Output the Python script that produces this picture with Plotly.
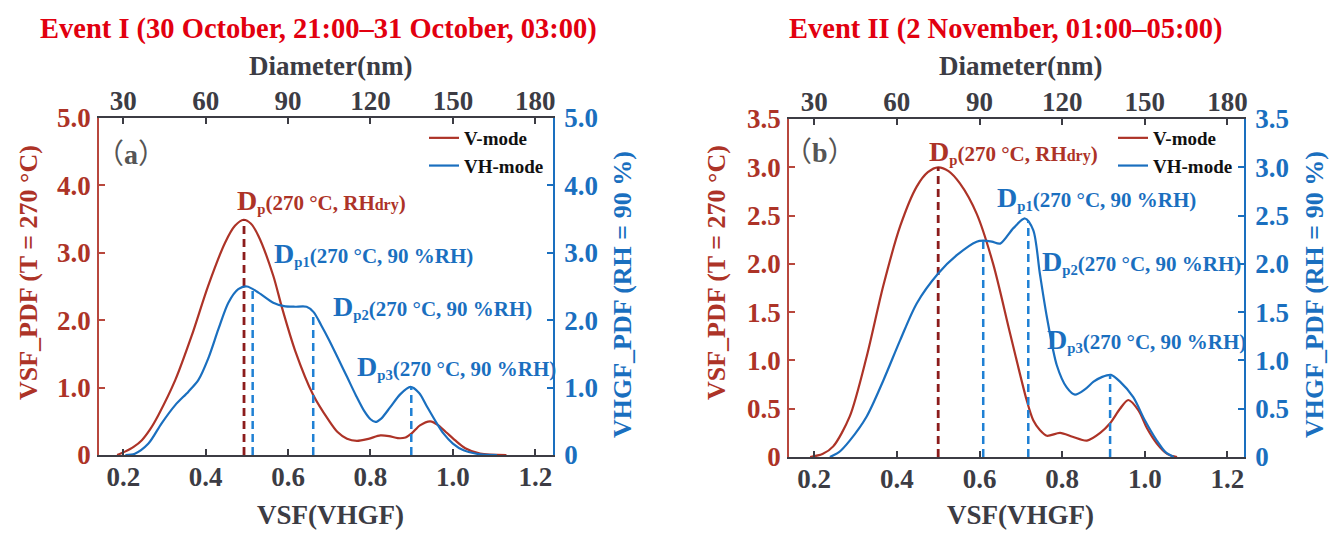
import plotly.graph_objects as go

# ---------------- data ----------------
# Panel (a): Event I
a_v_x = [0.185, 0.204, 0.225, 0.245, 0.265, 0.285, 0.326, 0.366, 0.406, 0.447, 0.471, 0.492, 0.51,
         0.528, 0.564, 0.585, 0.617, 0.661, 0.698, 0.72, 0.743, 0.767, 0.795, 0.824, 0.845, 0.866,
         0.885, 0.9, 0.92, 0.945, 0.965, 0.985, 1.005, 1.03, 1.066, 1.13]
a_v_y = [0.0, 0.05, 0.12, 0.22, 0.38, 0.59, 1.11, 1.77, 2.51, 3.15, 3.40, 3.49, 3.43,
         3.25, 2.66, 2.19, 1.55, 0.89, 0.52, 0.34, 0.24, 0.21, 0.24, 0.29, 0.28, 0.25,
         0.26, 0.32, 0.44, 0.5, 0.44, 0.33, 0.22, 0.1, 0.02, 0.0]
a_vh_x = [0.205, 0.228, 0.261, 0.293, 0.326, 0.358, 0.382, 0.406, 0.431, 0.455, 0.479, 0.50, 0.528,
          0.564, 0.59, 0.615, 0.645, 0.662, 0.68, 0.70, 0.72, 0.743, 0.765, 0.785, 0.8, 0.812,
          0.826, 0.848, 0.872, 0.897, 0.918, 0.937, 0.958, 0.977, 1.0, 1.026, 1.066, 1.107]
a_vh_y = [0.0, 0.02, 0.17, 0.47, 0.74, 0.94, 1.11, 1.43, 1.87, 2.26, 2.46, 2.50, 2.41,
          2.26, 2.21, 2.2, 2.2, 2.12, 1.93, 1.7, 1.45, 1.16, 0.88, 0.65, 0.53, 0.49,
          0.54, 0.71, 0.9, 1.01, 0.92, 0.72, 0.5, 0.32, 0.17, 0.07, 0.01, 0.0]
a_dp_v = [0.493, 3.49]                       # Dp (V-mode peak): x, height
a_dp_vh_x = [0.514, 0.661, 0.899]            # Dp1, Dp2, Dp3
a_dp_vh_y = [2.47, 2.1, 1.0]

# Panel (b): Event II
b_v_x = [0.19, 0.22, 0.246, 0.286, 0.327, 0.367, 0.408, 0.448, 0.475, 0.500, 0.525, 0.553, 0.593,
         0.633, 0.674, 0.714, 0.730, 0.746, 0.763, 0.795, 0.825, 0.86, 0.892, 0.916, 0.94, 0.96,
         0.985, 1.005, 1.029, 1.055, 1.078]
b_v_y = [0.0, 0.03, 0.11, 0.42, 1.04, 1.77, 2.39, 2.80, 2.95, 3.0, 2.96, 2.83, 2.52,
         2.00, 1.28, 0.59, 0.38, 0.28, 0.22, 0.25, 0.21, 0.17, 0.25, 0.35, 0.5, 0.59,
         0.48, 0.3, 0.14, 0.03, 0.0]
b_vh_x = [0.238, 0.26, 0.286, 0.327, 0.367, 0.408, 0.448, 0.500, 0.545, 0.593, 0.609, 0.630, 0.650,
          0.682, 0.710, 0.730, 0.746, 0.763, 0.787, 0.811, 0.831, 0.855, 0.876, 0.897, 0.918,
          0.94, 0.972, 1.0, 1.029, 1.05, 1.07]
b_vh_y = [0.0, 0.05, 0.17, 0.42, 0.79, 1.21, 1.59, 1.90, 2.09, 2.23, 2.24, 2.23, 2.21,
          2.37, 2.47, 2.35, 1.9, 1.45, 0.95, 0.72, 0.645, 0.7, 0.78, 0.83, 0.85,
          0.78, 0.62, 0.38, 0.17, 0.05, 0.0]
b_dp_v = [0.500, 3.0]
b_dp_vh_x = [0.609, 0.718, 0.916]
b_dp_vh_y = [2.24, 2.44, 0.85]

# tick labels
vsf_ticks = [0.2, 0.4, 0.6, 0.8, 1.0, 1.2]
vsf_labels = ["0.2", "0.4", "0.6", "0.8", "1.0", "1.2"]
diam_ticks = [30, 60, 90, 120, 150, 180]
a_y_ticks = [0, 1, 2, 3, 4, 5]
a_y_labels = ["0", "1.0", "2.0", "3.0", "4.0", "5.0"]
b_y_ticks = [0, 0.5, 1.0, 1.5, 2.0, 2.5, 3.0, 3.5]
b_y_labels = ["0", "0.5", "1.0", "1.5", "2.0", "2.5", "3.0", "3.5"]

titles = ["Event I (30 October, 21:00–31 October, 03:00)", "Event II (2 November, 01:00–05:00)"]
series_names = ["V-mode", "VH-mode"]

# ---------------- style ----------------
OFF = 8                      # the page places the figure 8 px from the window's top-left corner
W, H = 1343 - OFF, 539 - OFF
FONT = "Liberation Serif"
RED = "#ad3327"
RED_AX = "#b8473d"
RED_DASH = "#8c1c1c"
BLUE = "#1a6fbf"
BLUE_DASH = "#1f80d4"
GRAY = "#3c3c44"
TITLE_RED = "#e2000f"
TICK_SIZE = 27

def px(xp):
    return (xp - OFF) / W

def py(yp):
    return 1 - (yp - OFF) / H

panels = [
    dict(x0=99, x1=553, y0=118, y1=455, xr=[0.141, 1.243], yr=[0, 5], yt=a_y_ticks, yl=a_y_labels,
         vx=a_v_x, vy=a_v_y, hx=a_vh_x, hy=a_vh_y, dpv=a_dp_v, dpx=a_dp_vh_x, dpy=a_dp_vh_y,
         lab="（<b>a</b>）", lab_xy=(0.218, 4.46),
         ann=[(0.472, 3.77), (0.561, 2.98), (0.703, 2.19), (0.762, 1.31)],
         lt_x=28, rt_x=622, title_cx=318, leg_x=549),
    dict(x0=789, x1=1244, y0=119, y1=457, xr=[0.139, 1.240], yr=[0, 3.5], yt=b_y_ticks, yl=b_y_labels,
         vx=b_v_x, vy=b_v_y, hx=b_vh_x, hy=b_vh_y, dpv=b_dp_v, dpx=b_dp_vh_x, dpy=b_dp_vh_y,
         lab="（<b>b</b>）", lab_xy=(0.214, 3.15),
         ann=[(0.473, 3.16), (0.6375, 2.68), (0.7465, 2.02), (0.759, 1.21)],
         lt_x=716, rt_x=1314, title_cx=1006, leg_x=1238),
]

fig = go.Figure()
layout = dict(
    width=W, height=H, margin=dict(l=0, r=0, t=0, b=0, autoexpand=False),
    paper_bgcolor="white", plot_bgcolor="white",
    font=dict(family=FONT, size=20, color=GRAY, weight="bold"),
    annotations=[], showlegend=True,
)

D = "<span style='font-size:28px'>D</span>"
label_texts = [
    D + "<sub>p</sub>(270 °C, RH<span style='font-size:16px'>dry</span>)",
    D + "<sub>p1</sub>(270 °C, 90 %RH)",
    D + "<sub>p2</sub>(270 °C, 90 %RH)",
    D + "<sub>p3</sub>(270 °C, 90 %RH)",
]

for i, p in enumerate(panels):
    k = 2 * i
    xb = "x" if i == 0 else f"x{k+1}"          # bottom
    xt = f"x{k+2}"                              # top
    yl = "y" if i == 0 else f"y{k+1}"           # left
    yr = f"y{k+2}"                              # right
    xb_key = "xaxis" if i == 0 else f"xaxis{k+1}"
    xt_key = f"xaxis{k+2}"
    yl_key = "yaxis" if i == 0 else f"yaxis{k+1}"
    yr_key = f"yaxis{k+2}"
    leg = "legend" if i == 0 else "legend2"

    dom_x = [px(p["x0"]), px(p["x1"])]
    dom_y = [py(p["y1"]), py(p["y0"])]

    common = dict(showgrid=False, zeroline=False, automargin=False, ticklen=6, tickwidth=1.5,
                  showline=True, linewidth=1.5)
    layout[xb_key] = dict(domain=dom_x, anchor=yl, range=p["xr"], tickvals=vsf_ticks, ticktext=vsf_labels,
                          ticks="inside", tickcolor=GRAY, linecolor=GRAY,
                          tickfont=dict(size=TICK_SIZE, color=GRAY, family=FONT, weight="bold"),
                          ticklabelstandoff=-3, **common)
    layout[xt_key] = dict(overlaying=xb, anchor=yl, side="top", range=[p["xr"][0] * 150, p["xr"][1] * 150],
                          tickvals=diam_ticks, ticks="inside", tickcolor=GRAY, linecolor=GRAY,
                          tickfont=dict(size=TICK_SIZE, color=GRAY, family=FONT, weight="bold"),
                          ticklabelstandoff=-5, **common)
    layout[yl_key] = dict(domain=dom_y, anchor=xb, range=p["yr"], tickvals=p["yt"], ticktext=p["yl"],
                          ticks="inside", tickcolor=RED_AX, linecolor=RED_AX,
                          tickfont=dict(size=TICK_SIZE, color=RED, family=FONT, weight="bold"),
                          ticklabelstandoff=1, **common)
    layout[yr_key] = dict(overlaying=yl, anchor=xb, side="right", range=p["yr"], tickvals=p["yt"],
                          ticktext=p["yl"], ticks="inside", tickcolor=BLUE, linecolor=BLUE,
                          tickfont=dict(size=TICK_SIZE, color=BLUE, family=FONT, weight="bold"),
                          ticklabelstandoff=4, **common)

    # curves
    fig.add_trace(go.Scatter(x=p["vx"], y=p["vy"], xaxis=xb, yaxis=yl, mode="lines", name=series_names[0],
                             line=dict(color=RED, width=2.2, shape="spline", smoothing=0.8),
                             legend=leg, hoverinfo="skip"))
    fig.add_trace(go.Scatter(x=p["hx"], y=p["hy"], xaxis=xb, yaxis=yr, mode="lines", name=series_names[1],
                             line=dict(color=BLUE, width=2.2, shape="spline", smoothing=0.8),
                             legend=leg, hoverinfo="skip"))
    # dashed peak markers
    fig.add_trace(go.Scatter(x=[p["dpv"][0], p["dpv"][0]], y=[0, p["dpv"][1]], xaxis=xb, yaxis=yl,
                             mode="lines", line=dict(color=RED_DASH, width=2.8, dash="8px,5px"),
                             showlegend=False, hoverinfo="skip"))
    for xv, yv in zip(p["dpx"], p["dpy"]):
        fig.add_trace(go.Scatter(x=[xv, xv], y=[0, yv], xaxis=xb, yaxis=yr,
                                 mode="lines", line=dict(color=BLUE_DASH, width=2.5, dash="8px,5px"),
                                 showlegend=False, hoverinfo="skip"))
    # empty trace so that the top axis is drawn
    fig.add_trace(go.Scatter(x=[], y=[], xaxis=xt, yaxis=yl, showlegend=False, hoverinfo="skip"))

    layout[leg] = dict(x=px(p["leg_x"]), xanchor="right", y=py(119), yanchor="top",
                       bgcolor="rgba(0,0,0,0)", font=dict(family=FONT, size=19, color="#111111", weight="bold"),
                       tracegroupgap=0, itemwidth=30)

    anns = layout["annotations"]
    cx = (p["x0"] + p["x1"]) / 2
    anns.append(dict(xref="paper", yref="paper", x=px(p["title_cx"]), y=py(29), text=titles[i],
                     showarrow=False, xanchor="center", yanchor="middle",
                     font=dict(size=28.5, color=TITLE_RED, family=FONT, weight="bold")))
    anns.append(dict(xref="paper", yref="paper", x=px(cx + 4), y=py(66), text="Diameter(nm)",
                     showarrow=False, xanchor="center", yanchor="middle",
                     font=dict(size=27, color=GRAY, family=FONT, weight="bold")))
    anns.append(dict(xref="paper", yref="paper", x=px(cx + 4), y=py(515), text="VSF(VHGF)",
                     showarrow=False, xanchor="center", yanchor="middle",
                     font=dict(size=27, color=GRAY, family=FONT, weight="bold")))
    anns.append(dict(xref="paper", yref="paper", x=px(p["lt_x"]), y=py(273), text="VSF_PDF (T = 270 °C)",
                     showarrow=False, xanchor="center", yanchor="middle", textangle=-90,
                     font=dict(size=26, color=RED, family=FONT, weight="bold")))
    anns.append(dict(xref="paper", yref="paper", x=px(p["rt_x"]), y=py(295), text="VHGF_PDF (RH = 90 %)",
                     showarrow=False, xanchor="center", yanchor="middle", textangle=-90,
                     font=dict(size=26, color=BLUE, family=FONT, weight="bold")))
    anns.append(dict(xref=xb, yref=yl, x=p["lab_xy"][0], y=p["lab_xy"][1], text=p["lab"],
                     showarrow=False, xanchor="center", yanchor="middle",
                     font=dict(size=28, color="#555555", family=FONT + ", Noto Sans CJK SC", weight="normal")))
    for j, (ax_, ay_) in enumerate(p["ann"]):
        col = RED if j == 0 else BLUE
        anns.append(dict(xref=xb, yref=yl, x=ax_, y=ay_, text=label_texts[j], showarrow=False,
                         xanchor="left", yanchor="middle",
                         font=dict(size=21, color=col, family=FONT, weight="bold")))

fig.update_layout(**layout)
fig.write_html("out.html")
